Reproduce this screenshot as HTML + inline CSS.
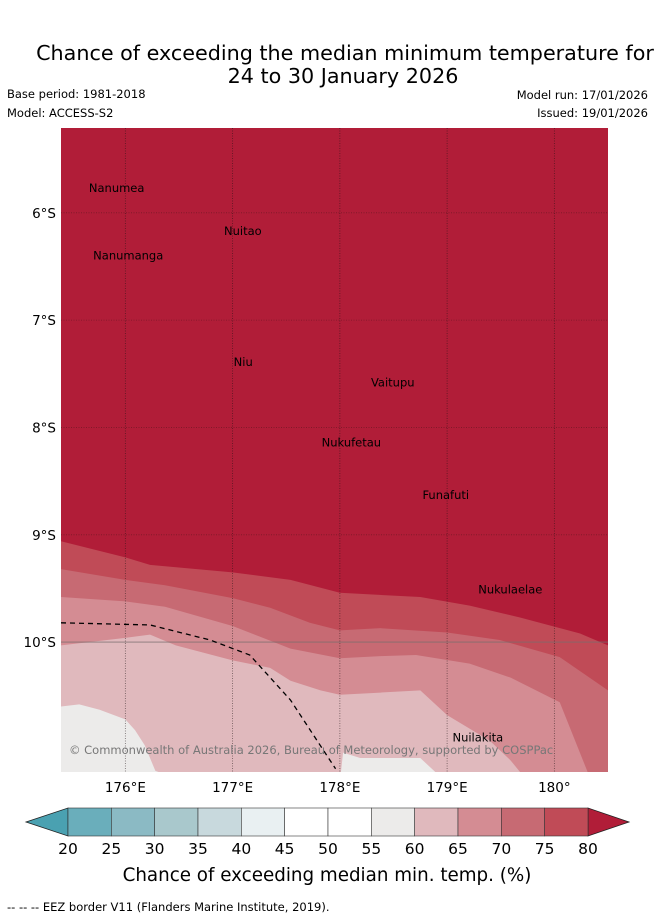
<!DOCTYPE html>
<html><head><meta charset="utf-8"><style>
body{margin:0;background:#fff;width:655px;height:919px;overflow:hidden;font-family:"Liberation Sans","DejaVu Sans",sans-serif}
svg text{font-family:"DejaVu Sans","Liberation Sans",sans-serif}
</style></head><body>
<svg id="chart" width="655" height="919" viewBox="0 0 655 919" xmlns="http://www.w3.org/2000/svg">
<text x="345" y="60" font-size="20.7" text-anchor="middle">Chance of exceeding the median minimum temperature for</text>
<text x="343" y="83" font-size="20.7" text-anchor="middle">24 to 30 January 2026</text>
<text x="7" y="98" font-size="11.5">Base period: 1981-2018</text>
<text x="7" y="117" font-size="11.5">Model: ACCESS-S2</text>
<text x="648" y="99" font-size="11.5" text-anchor="end">Model run: 17/01/2026</text>
<text x="648" y="117" font-size="11.5" text-anchor="end">Issued: 19/01/2026</text>
<defs><clipPath id="mapclip"><rect x="61" y="128" width="547" height="644"/></clipPath></defs>
<g id="map" clip-path="url(#mapclip)"></g>
<g id="axes"></g>
<g id="cbar"></g>
<text x="327" y="881" font-size="18.3" text-anchor="middle">Chance of exceeding median min. temp. (%)</text>
<text x="7" y="911" font-size="11.5">--  --  -- EEZ border V11 (Flanders Marine Institute, 2019).</text>
</svg>
<script>
const lonMin=175.40, lonMax=180.50, latTop=5.21, latBot=11.21;
const X0=61,X1=608,Y0=128,Y1=772;
function xs(lon){return X0+(lon-lonMin)/(lonMax-lonMin)*(X1-X0);}
function ys(lat){return Y0+(lat-latTop)/(latBot-latTop)*(Y1-Y0);}
// band boundaries (lon, lat south)
const b80Lon=[175.40,176.0,176.23,177.0,177.54,178.0,178.75,179.21,179.68,180.24,180.50];
const b80Lat=[9.06,9.21,9.28,9.35,9.42,9.54,9.58,9.66,9.77,9.92,10.03];
const b75Lon=[175.40,176.0,176.37,177.0,177.35,177.72,178.0,178.38,179.0,179.49,180.05,180.50];
const b75Lat=[9.32,9.42,9.47,9.59,9.68,9.82,9.89,9.87,9.91,9.98,10.14,10.45];
const b70Lon=[175.40,176.0,176.37,177.0,177.54,178.0,178.38,178.71,179.21,179.59,180.05,180.31];
const b70Lat=[9.58,9.62,9.67,9.85,10.06,10.15,10.13,10.12,10.20,10.33,10.56,11.21];
const b65Lon=[175.40,176.0,176.23,176.47,177.0,177.35,177.54,177.82,178.0,178.38,178.75,179.0,179.40,179.59,179.68];
const b65Lat=[10.03,9.96,9.93,10.03,10.17,10.24,10.36,10.45,10.49,10.47,10.45,10.68,10.92,11.10,11.21];
const b60aLon=[175.40,175.57,175.76,176.0,176.09,176.18,176.28,176.31];
const b60aLat=[10.60,10.58,10.63,10.72,10.82,10.96,11.20,11.21];
const b60bLon=[178.01,178.03,178.19,178.75,178.89];
const b60bLat=[11.21,11.03,11.08,11.08,11.21];
const eezLon=[175.40,176.23,176.79,177.16,177.54,177.96];
const eezLat=[9.82,9.84,9.98,10.12,10.54,11.18];
const bandColors=['#b11d38','#c04b57','#c76a73','#d48c93','#e0b9bd','#ecebea'];
const latTicks=[6,7,8,9,10];
const lonTicks=[176,177,178,179,180];
const lonTickLabels=['176°E','177°E','178°E','179°E','180°'];
const cbLevels=[20,25,30,35,40,45,50,55,60,65,70,75,80];
const cbColors=['#6aaebb','#8bbac4','#a9c8cc','#c8d9dd','#e9f0f2','#ffffff','#ffffff','#ecebea','#e0b9bd','#d48c93','#c76a73','#c04b57'];
const places=['Nanumea','Nuitao','Nanumanga','Niu','Vaitupu','Nukufetau','Funafuti','Nukulaelae','Nuilakita'];
const placeLon=[175.66,176.92,175.70,177.01,178.29,177.83,178.77,179.29,179.05];
const placeLat=[5.77,6.17,6.40,7.39,7.58,8.14,8.63,9.51,10.89];

const NS='http://www.w3.org/2000/svg';
function mk(tag,attrs,parent){const e=document.createElementNS(NS,tag);for(const k in attrs)e.setAttribute(k,attrs[k]);parent.appendChild(e);return e;}
const map=document.getElementById('map');
const bg=mk('rect',{x:X0,y:Y0,width:X1-X0,height:Y1-Y0,fill:bandColors[0]},map);


function band(lons,lats,color,name){
  let pts=lons.map((l,i)=>xs(l)+','+ys(lats[i]));
  pts.push(xs(lons[lons.length-1])+','+(Y1+2));
  pts.push(xs(lons[0])+','+(Y1+2));
  const p=mk('polygon',{points:pts.join(' '),fill:color},map);
  
  
}
band(b80Lon,b80Lat,bandColors[1],'band-75-80');
band(b75Lon,b75Lat,bandColors[2],'band-70-75');
band(b70Lon,b70Lat,bandColors[3],'band-65-70');
band(b65Lon,b65Lat,bandColors[4],'band-60-65');
band(b60aLon,b60aLat,bandColors[5],'band-55-60-west');
band(b60bLon,b60bLat,bandColors[5],'band-55-60-south');
// gridlines
lonTicks.forEach(t=>{
  const l=mk('line',{x1:xs(t),x2:xs(t),y1:Y0,y2:Y1,stroke:'rgba(30,20,20,0.6)','stroke-width':0.8,'stroke-dasharray':'1,1.5'},map);
  
  
});
latTicks.forEach(t=>{
  const l=mk('line',{x1:X0,x2:X1,y1:ys(t),y2:ys(t),stroke:t===10?'rgba(120,110,110,0.5)':'rgba(60,20,20,0.45)','stroke-width':t===10?1.5:0.8,'stroke-dasharray':t===10?'':'1,1.5'},map);
  
  
});
const eez=mk('polyline',{points:eezLon.map((l,i)=>xs(l)+','+ys(eezLat[i])).join(' '),fill:'none',stroke:'#000','stroke-width':1.3,'stroke-dasharray':'5,4'},map);


places.forEach((n,i)=>{
  const t=mk('text',{x:xs(placeLon[i]),y:ys(placeLat[i])+4,'font-size':11.5,'text-anchor':'start',fill:'#000'},map);
  t.textContent=n;
  
  
});
const cr=mk('text',{x:69,y:754,'font-size':11.5,fill:'#777'},map);
cr.textContent='© Commonwealth of Australia 2026, Bureau of Meteorology, supported by COSPPac';


// axes labels
const axes=document.getElementById('axes');
latTicks.forEach(t=>{
  const e=mk('text',{x:56,y:ys(t)+5,'font-size':13.5,'text-anchor':'end'},axes);
  e.textContent=t+'°S';
  
  
});
lonTicks.forEach((t,i)=>{
  const e=mk('text',{x:xs(t),y:792,'font-size':13.5,'text-anchor':'middle'},axes);
  e.textContent=lonTickLabels[i];
  
  
});
// colorbar
const cb=document.getElementById('cbar');
const cbX0=68,cbX1=588,cbY0=808,cbY1=836;
const segW=(cbX1-cbX0)/cbColors.length;
const la=mk('polygon',{points:`${cbX0},${cbY0} ${cbX0},${cbY1} 26,${(cbY0+cbY1)/2}`,fill:'#4aa1b1',stroke:'#222','stroke-width':0.8},cb);


const ra=mk('polygon',{points:`${cbX1},${cbY0} ${cbX1},${cbY1} 629,${(cbY0+cbY1)/2}`,fill:'#b11d38',stroke:'#222','stroke-width':0.8},cb);


cbColors.forEach((c,i)=>{
  const r=mk('rect',{x:cbX0+i*segW,y:cbY0,width:segW,height:cbY1-cbY0,fill:c,stroke:'#333','stroke-width':0.6},cb);
  
  
});
cbLevels.forEach((v,i)=>{
  const t=mk('text',{x:cbX0+i*segW,y:854,'font-size':15.5,'text-anchor':'middle'},cb);
  t.textContent=v;
  
  
});
</script>
</body></html>
